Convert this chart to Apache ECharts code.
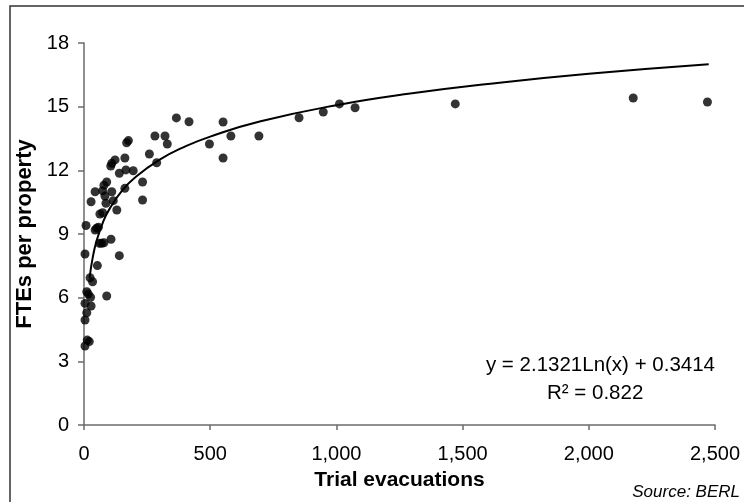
<!DOCTYPE html>
<html>
<head>
<meta charset="utf-8">
<script src="https://cdn.jsdelivr.net/npm/echarts@6/dist/echarts.min.js"></script>
<style>
html,body{margin:0;padding:0;background:#fff;}
#chart{width:744px;height:502px;}
</style>
</head>
<body>
<div id="chart"></div>
<script>
// Scatter data: trial evacuations (x) and FTEs per property (y)
var evacuations = [2470, 2176, 1471, 1074, 1012, 948, 852, 693, 582, 551, 551, 497, 416, 366, 330, 321, 288, 281, 259, 232, 232, 195, 176, 169, 166, 162, 162, 140, 140, 130, 123, 116, 110, 110, 107, 106, 90, 90, 87, 83, 79, 79, 74, 74, 70, 63, 61, 57, 53, 50, 44, 44, 34, 28, 28, 26, 24, 21, 17, 13, 11, 11, 8, 4, 4, 4, 4];
var ftes = [15.22, 15.41, 15.13, 14.95, 15.13, 14.75, 14.48, 13.62, 13.62, 14.28, 12.58, 13.24, 14.29, 14.47, 13.24, 13.62, 12.36, 13.62, 12.77, 11.45, 10.6, 11.98, 13.40, 13.30, 12.02, 12.58, 11.15, 11.86, 7.98, 10.13, 12.49, 10.57, 12.33, 10.99, 8.75, 12.2, 11.45, 6.08, 10.45, 10.79, 11.3, 8.59, 11.04, 10.0, 8.56, 9.94, 8.56, 9.32, 7.51, 9.27, 10.99, 9.19, 6.75, 10.52, 5.61, 6.02, 6.94, 3.93, 6.17, 4.0, 6.28, 5.29, 9.4, 8.06, 5.73, 4.95, 3.72];

// Trend line
var trendX = [22, 35, 50, 75, 100, 150, 200, 300, 400, 500, 700, 1000, 1300, 1600, 2000, 2475];
var trendY = [6.93, 7.92, 8.68, 9.55, 10.16, 11.03, 11.64, 12.50, 13.12, 13.59, 14.31, 15.07, 15.63, 16.07, 16.55, 17.00];

var xTicks = [0, 500, 1000, 1500, 2000, 2500];
var yTicks = [0, 3, 6, 9, 12, 15, 18];

var eqText = 'y = 2.1321Ln(x) + 0.3414';
var r2Text = 'R\u00B2 = 0.822';
var xTitle = 'Trial evacuations';
var yTitle = 'FTEs per property';
var sourceText = 'Source: BERL';

var scatterData = evacuations.map(function (x, i) { return [x, ftes[i]]; });
var trendData = trendX.map(function (x, i) { return [x, trendY[i]]; });

var font = 'Liberation Sans, Arial, sans-serif';
var chart = echarts.init(document.getElementById('chart'), null, {renderer: 'canvas'});
chart.setOption({
  animation: false,
  backgroundColor: '#fff',
  grid: {left: 84, right: 29, top: 43, bottom: 77, containLabel: false},
  xAxis: {
    type: 'value', min: xTicks[0], max: xTicks[xTicks.length - 1], interval: 500,
    axisLine: {show: true, lineStyle: {color: '#6b6b6b', width: 1.5}},
    axisTick: {show: true, inside: false, length: 5, lineStyle: {color: '#6b6b6b', width: 1.5}},
    splitLine: {show: false},
    axisLabel: {color: '#000', fontSize: 20, fontFamily: font, margin: 19,
      formatter: function (v) { return v.toLocaleString('en-US'); }},
    name: xTitle, nameLocation: 'middle', nameGap: 45,
    nameTextStyle: {color: '#000', fontSize: 21, fontWeight: 'bold', fontFamily: font}
  },
  yAxis: {
    type: 'value', min: yTicks[0], max: yTicks[yTicks.length - 1], interval: 3,
    axisLine: {show: true, lineStyle: {color: '#6b6b6b', width: 1.5}},
    axisTick: {show: true, inside: false, length: 6, lineStyle: {color: '#6b6b6b', width: 1.5}},
    splitLine: {show: false},
    axisLabel: {color: '#000', fontSize: 20, fontFamily: font, margin: 15},
    name: yTitle, nameLocation: 'middle', nameGap: 47, nameRotate: 90,
    nameTextStyle: {color: '#000', fontSize: 22, fontWeight: 'bold', fontFamily: font}
  },
  series: [
    {
      type: 'scatter', data: scatterData, symbol: 'circle', symbolSize: 9,
      itemStyle: {color: '#000'}, z: 3
    },
    {
      type: 'line', data: trendData, showSymbol: false, smooth: true,
      lineStyle: {color: '#000', width: 2}, z: 2
    }
  ],
  graphic: [
    {type: 'rect', shape: {x: 10, y: 6, width: 760, height: 520},
     style: {fill: 'none', stroke: '#333', lineWidth: 1.5}, z: -1},
    {type: 'text', right: 29, top: 355,
     style: {text: eqText, fill: '#000', font: '20.5px ' + font, textAlign: 'right'}},
    {type: 'text', left: 547, top: 383,
     style: {text: r2Text, fill: '#000', font: '20.5px ' + font}},
    {type: 'text', right: 4, top: 484,
     style: {text: sourceText, fill: '#000', font: 'italic 17px ' + font}}
  ]
});
</script>
</body>
</html>
